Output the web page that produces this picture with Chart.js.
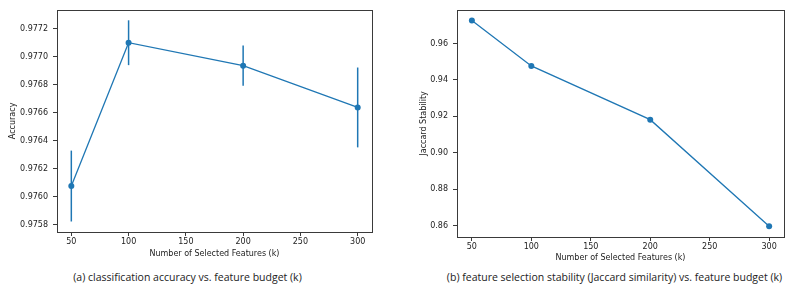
<!DOCTYPE html>
<html><head><meta charset="utf-8">
<script src="https://cdn.jsdelivr.net/npm/chart.js@4.4.1/dist/chart.umd.min.js"></script>
<style>
html,body{margin:0;padding:0;background:#fff;}
#wrap{position:relative;width:793px;height:291px;overflow:hidden;}
.box{position:absolute;}
.cap{position:absolute;white-space:nowrap;font-family:"Open Sans",sans-serif;font-size:10.5px;color:#222;transform:translate(-50%,-50%);}
</style></head><body>
<div id="wrap">
  <div class="box" style="left:0;top:0;width:400px;height:262px;"><canvas id="c1"></canvas></div>
  <div class="box" style="left:400px;top:0;width:393px;height:266px;"><canvas id="c2"></canvas></div>
  <div class="cap" id="cap1" style="left:187.5px;top:277px;"></div>
  <div class="cap" id="cap2" style="left:614.5px;top:277px;"></div>
</div>
<script>
// ---- data ----
const kValues = [50, 100, 200, 300];
const accMean = [0.976078, 0.977101, 0.976937, 0.976639];
const accErr = [0.000253, 0.000160, 0.000144, 0.000285];
const jaccard = [0.9726, 0.9477, 0.9182, 0.8597];
const xTicks = [50, 100, 150, 200, 250, 300];
const accTicks = [0.9758, 0.9760, 0.9762, 0.9764, 0.9766, 0.9768, 0.9770, 0.9772];
const jacTicks = [0.86, 0.88, 0.90, 0.92, 0.94, 0.96];
const xLabel = 'Number of Selected Features (k)';
const accLabel = 'Accuracy';
const jacLabel = 'Jaccard Stability';
const caption1 = '(a) classification accuracy vs. feature budget (k)';
const caption2 = '(b) feature selection stability (Jaccard similarity) vs. feature budget (k)';

document.getElementById('cap1').textContent = caption1;
document.getElementById('cap2').textContent = caption2;

const BLUE = '#1f77b4';
const AX = '#3a3a3a';
const TXT = '#222';
const tickFont = {family: "'DejaVu Sans'", size: 8};

const framePlugin = {
  id: 'frame',
  afterDraw(chart) {
    const {ctx, chartArea: a} = chart;
    ctx.save();
    ctx.strokeStyle = AX; ctx.lineWidth = 1;
    ctx.strokeRect(Math.round(a.left) + 0.5, Math.round(a.top) + 0.5, Math.round(a.right - a.left), Math.round(a.bottom - a.top));
    ctx.restore();
  }
};
const errPlugin = {
  id: 'errbars',
  beforeDatasetsDraw(chart) {
    const ds = chart.data.datasets[0];
    if (!ds.errors) return;
    const {ctx} = chart; const xs = chart.scales.x, ys = chart.scales.y;
    ctx.save();
    ctx.strokeStyle = BLUE; ctx.lineWidth = 1.5;
    ds.data.forEach((p, i) => {
      const x = xs.getPixelForValue(p.x);
      ctx.beginPath();
      ctx.moveTo(x, ys.getPixelForValue(p.y - ds.errors[i]));
      ctx.lineTo(x, ys.getPixelForValue(p.y + ds.errors[i]));
      ctx.stroke();
    });
    ctx.restore();
  }
};

function makeChart(id, vals, errs, yTicks, yMin, yMax, dec, yTitle, yTitlePad, pad, xAxisH) {
  return new Chart(document.getElementById(id), {
    type: 'line',
    data: {datasets: [{
      data: kValues.map((k, i) => ({x: k, y: vals[i]})),
      errors: errs,
      borderColor: BLUE, backgroundColor: BLUE, borderWidth: 1.3,
      pointRadius: 3, pointHoverRadius: 3, pointBorderWidth: 0, tension: 0
    }]},
    options: {
      responsive: true, maintainAspectRatio: false, animation: false,
      devicePixelRatio: 1,
      layout: {padding: pad},
      plugins: {legend: {display: false}, tooltip: {enabled: false}},
      scales: {
        x: {
          type: 'linear', min: 37.5, max: 312.5,
          afterBuildTicks: s => { s.ticks = xTicks.map(v => ({value: v})); },
          afterFit: s => { s.height = xAxisH; },
          grid: {drawOnChartArea: false, drawTicks: true, tickLength: 4, color: AX},
          border: {display: false},
          ticks: {font: tickFont, color: TXT, padding: 1, maxRotation: 0, callback: v => String(v)},
          title: {display: true, text: xLabel, font: tickFont, color: TXT, padding: {top: 0, bottom: 3}}
        },
        y: {
          type: 'linear', min: yMin, max: yMax,
          afterBuildTicks: s => { s.ticks = yTicks.map(v => ({value: v})); },
          afterFit: s => { s.width = 57; },
          grid: {drawOnChartArea: false, drawTicks: true, tickLength: 4, color: AX},
          border: {display: false},
          ticks: {font: tickFont, color: TXT, padding: 5, callback: v => Number(v).toFixed(dec)},
          title: {display: true, text: yTitle, font: tickFont, color: TXT, padding: {top: yTitlePad, bottom: 0}}
        }
      }
    },
    plugins: [errPlugin, framePlugin]
  });
}

makeChart('c1', accMean, accErr, accTicks, 0.97575, 0.977336, 4, accLabel, 8.2, {left: 0, top: 3, right: 28, bottom: 0}, 30);
makeChart('c2', jaccard, null, jacTicks, 0.8538, 0.9785, 2, jacLabel, 19.2, {left: 0, top: 7, right: 9, bottom: 0}, 29);
</script>
</body></html>
